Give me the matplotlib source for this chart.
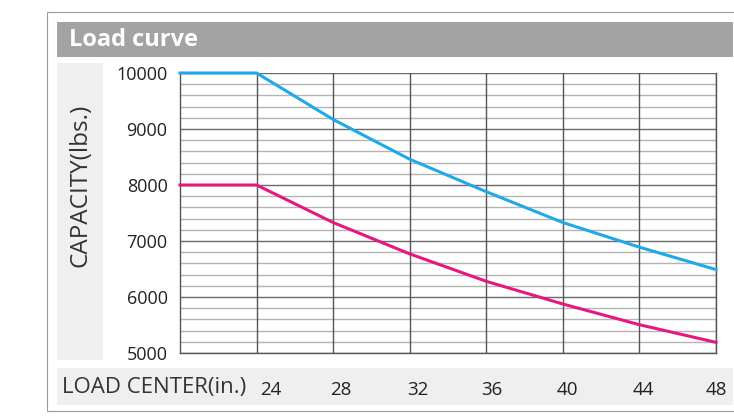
import matplotlib.pyplot as plt
from matplotlib.patches import Rectangle
from matplotlib.transforms import ScaledTranslation

plt.rcParams['font.family'] = ['Open Sans', 'DejaVu Sans']

# load center (in.) and capacity (lbs.)
load_center = [20, 24, 28, 32, 36, 40, 44, 48]
cap_blue = [10000, 10000, 9170, 8460, 7880, 7330, 6890, 6490]
cap_pink = [8000, 8000, 7330, 6770, 6280, 5875, 5505, 5190]

xticks = [24, 28, 32, 36, 40, 44, 48]
yticks = [5000, 6000, 7000, 8000, 9000, 10000]
xlab_shift = [14, 8, 8, 6, 5, 4, 0]  # label offset in px, as in the original

fig = plt.figure(figsize=(7.34, 4.18), dpi=100)
W, H = 734, 418

def box(x0, y0, x1, y1, **kw):
    # pixel coords, y from top
    r = Rectangle((x0 / W, 1 - y1 / H), (x1 - x0) / W, (y1 - y0) / H,
                  transform=fig.transFigure, zorder=-5, **kw)
    fig.patches.append(r)

box(47, 12, 740, 411, facecolor='white', edgecolor='#9a9a9a', lw=0.8)
box(57, 22, 733, 57, facecolor='#a3a3a3', edgecolor='none')
box(57, 63, 103, 360, facecolor='#efefef', edgecolor='none')
box(57, 368, 733, 405, facecolor='#efefef', edgecolor='none')

fig.text(69 / W, 1 - 40 / H, 'Load curve', color='white', fontsize=17,
         fontweight='bold', va='center', ha='left')
fig.text(80 / W, 1 - 185 / H, 'CAPACITY(lbs.)', color='#333333', fontsize=17.5,
         rotation=90, va='center', ha='center')
fig.text(62 / W, 1 - 388 / H, 'LOAD CENTER(in.)', color='#333333', fontsize=16,
         va='center', ha='left')

ax = fig.add_axes([180 / W, 1 - 353 / H, (716 - 180) / W, (353 - 73) / H])
ax.set_facecolor('white')
ax.set_xlim(20, 48)
ax.set_ylim(5000, 10000)

# grid
for v in range(5200, 10000, 200):
    if v % 1000:
        ax.axhline(v, color='#b4b4b4', lw=1.0, zorder=1)
for v in yticks:
    ax.axhline(v, color='#6a6a6a', lw=1.0, zorder=1)
for v in xticks:
    ax.axvline(v, color='#555555', lw=1.0, zorder=1)

ax.plot(load_center, cap_blue, color='#1fa9ea', lw=2.2, zorder=3, clip_on=False)
ax.plot(load_center, cap_pink, color='#e8177f', lw=2.2, zorder=3, clip_on=False)

for s in ax.spines.values():
    s.set_color('#555555')
    s.set_linewidth(1.0)
ax.spines['top'].set_visible(False)

ax.set_xticks(xticks)
ax.set_xticklabels([str(t) for t in xticks])
ax.set_yticks(yticks)
ax.set_yticklabels([str(t) for t in yticks])
ax.tick_params(length=0, labelcolor='#222222')
ax.tick_params(axis='y', pad=9, labelsize=13)
ax.tick_params(axis='x', pad=20, labelsize=13.5)
for lab, dx in zip(ax.get_xticklabels(), xlab_shift):
    lab.set_transform(lab.get_transform() + ScaledTranslation(dx / 100, 0, fig.dpi_scale_trans))

fig.savefig('out.png', dpi=100)
